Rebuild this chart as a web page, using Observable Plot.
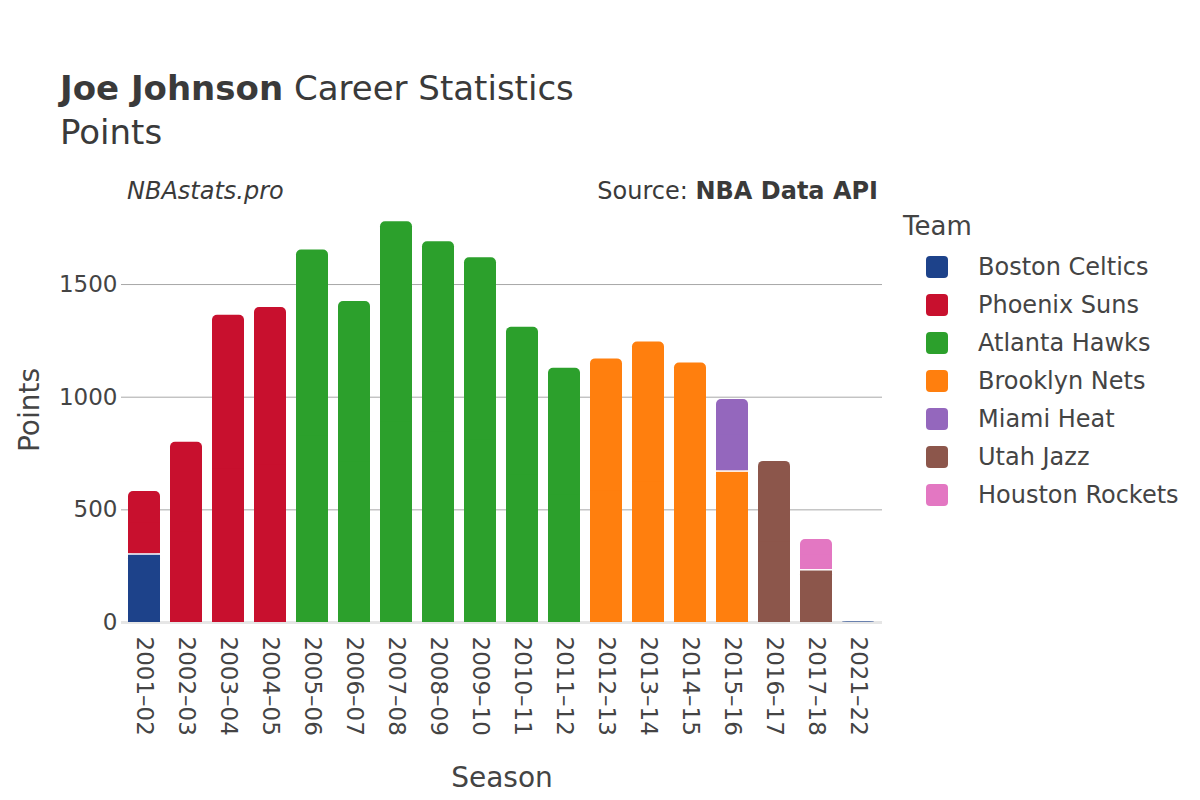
<!DOCTYPE html>
<html>
<head>
<meta charset="utf-8">
<script src="https://cdn.jsdelivr.net/npm/d3@7"></script>
<script src="https://cdn.jsdelivr.net/npm/@observablehq/plot@0.6"></script>
<style>
  html, body { margin: 0; padding: 0; background: #fff; }
  #wrap { position: relative; width: 1200px; height: 800px; font-family: "DejaVu Sans", sans-serif; color: #444; }
  #chart { position: absolute; left: 0; top: 0; }
  .abs { position: absolute; white-space: nowrap; line-height: 1; }
  #title { left: 60px; top: 71px; font-size: 34px; color: #3a3a3a; }
  #subtitle { left: 60px; top: 115px; font-size: 34px; color: #3a3a3a; }
  #site { left: 127px; top: 179px; font-size: 24px; font-style: italic; color: #3a3a3a; }
  #source { right: 322px; top: 179px; font-size: 24px; color: #3a3a3a; }
  #ylab { left: 30px; top: 410px; font-size: 28px; transform: translate(-50%, -50%) rotate(-90deg); color: #444; }
  #xlab { left: 502px; top: 778px; font-size: 28px; transform: translate(-50%, -50%); color: #444; }
  #legend { left: 903px; top: 213px; color: #444; }
  #legend .lt { font-size: 26px; margin-bottom: 9px; }
  #legend .row { display: flex; align-items: center; height: 38px; }
  #legend .sw { width: 22px; height: 22px; border-radius: 4px; margin-left: 23px; margin-right: 30px; }
  #legend .lab { font-size: 24px; }
</style>
</head>
<body>
<div id="wrap">
  <div id="chart"></div>
  <div class="abs" id="title"><b>Joe Johnson</b> Career Statistics</div>
  <div class="abs" id="subtitle">Points</div>
  <div class="abs" id="site">NBAstats.pro</div>
  <div class="abs" id="source">Source: <b>NBA Data API</b></div>
  <div class="abs" id="ylab">Points</div>
  <div class="abs" id="xlab">Season</div>
  <div class="abs" id="legend"></div>
</div>
<script>
// ---- Data ----
const seasons = ["2001–02","2002–03","2003–04","2004–05","2005–06","2006–07","2007–08","2008–09","2009–10","2010–11","2011–12","2012–13","2013–14","2014–15","2015–16","2016–17","2017–18","2021–22"];
const teams = ["Boston Celtics","Phoenix Suns","Atlanta Hawks","Brooklyn Nets","Miami Heat","Utah Jazz","Houston Rockets"];
const teamColors = ["#1D428A","#C8102E","#2CA02C","#FF7F0E","#9467BD","#8C564B","#E377C2"];
// one entry per team stint, stacked in this order within a season
const segSeason = ["2001–02","2001–02","2002–03","2003–04","2004–05","2005–06","2006–07","2007–08","2008–09","2009–10","2010–11","2011–12","2012–13","2013–14","2014–15","2015–16","2015–16","2016–17","2017–18","2017–18","2021–22"];
const segTeam = ["Boston Celtics","Phoenix Suns","Phoenix Suns","Phoenix Suns","Phoenix Suns","Atlanta Hawks","Atlanta Hawks","Atlanta Hawks","Atlanta Hawks","Atlanta Hawks","Atlanta Hawks","Atlanta Hawks","Brooklyn Nets","Brooklyn Nets","Brooklyn Nets","Brooklyn Nets","Miami Heat","Utah Jazz","Utah Jazz","Houston Rockets","Boston Celtics"];
const segPoints = [304,277,800,1364,1398,1653,1425,1779,1690,1619,1310,1128,1170,1245,1152,672,318,715,234,134,2];
const yTicks = [0,500,1000,1500];

// ---- build stacked segments ----
const cum = {};
const segs = segSeason.map((s, i) => {
  const y1 = cum[s] || 0;
  const y2 = y1 + segPoints[i];
  cum[s] = y2;
  return {season: s, team: segTeam[i], points: segPoints[i], y1, y2};
});
segs.forEach(d => { d.isTop = (cum[d.season] === d.y2); d.sq = d.isTop ? (d.y1 + d.y2) / 2 : d.y2; });

const chart = Plot.plot({
  width: 1200,
  height: 800,
  marginLeft: 121,
  marginRight: 318,
  marginTop: 200,
  marginBottom: 178,
  style: {fontFamily: "DejaVu Sans, sans-serif", fontSize: "23px", color: "#444", background: "transparent"},
  x: {domain: seasons, paddingInner: 0.23, paddingOuter: 0.115, label: null},
  y: {domain: [0, 1873], label: null},
  color: {domain: teams, range: teamColors},
  marks: [
    Plot.ruleY(yTicks.filter(t => t > 0), {stroke: "#a8a8a8", strokeWidth: 1}),
    Plot.ruleY([0], {stroke: "#e6e6e6", strokeWidth: 3}),
    Plot.barY(segs, {x: "season", y1: "y1", y2: "y2", fill: "team", rx: 5}),
    Plot.barY(segs, {x: "season", y1: "y1", y2: "sq", fill: "team"}),
    Plot.tickY(segs.filter(d => d.y1 > 0), {x: "season", y: "y1", stroke: "white", strokeWidth: 1.5}),
    Plot.axisY({ticks: yTicks, tickFormat: d => String(d), tickSize: 0, tickPadding: 4, fontSize: 23, label: null, fill: "#444"}),
    Plot.axisX({tickSize: 0, tickPadding: 14, tickRotate: 90, fontSize: 23, label: null, fill: "#444"})
  ]
});
document.getElementById("chart").appendChild(chart);

// ---- legend ----
const legend = document.getElementById("legend");
const lt = document.createElement("div");
lt.className = "lt";
lt.textContent = "Team";
legend.appendChild(lt);
teams.forEach((t, i) => {
  const row = document.createElement("div");
  row.className = "row";
  const sw = document.createElement("div");
  sw.className = "sw";
  sw.style.background = teamColors[i];
  const lab = document.createElement("div");
  lab.className = "lab";
  lab.textContent = t;
  row.appendChild(sw);
  row.appendChild(lab);
  legend.appendChild(row);
});
</script>
</body>
</html>
